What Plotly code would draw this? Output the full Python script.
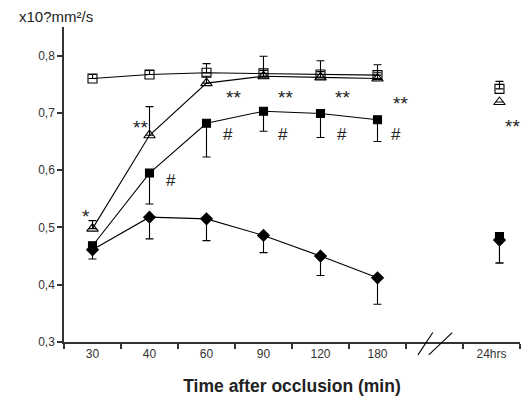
import plotly.graph_objects as go

# ---- data ----
categories = ["30", "40", "60", "90", "120", "180", "24hrs"]

open_sq = [0.760, 0.767, 0.770, 0.769, 0.767, 0.766, 0.742]
open_sq_up = [0.007, 0.007, 0.016, 0.030, 0.024, 0.018, 0.013]

tri = [0.498, 0.661, 0.752, 0.764, 0.762, 0.760, 0.719]
tri_up = [0.014, 0.050, 0.012, 0.010, 0.010, 0.010, 0.000]

fill_sq = [0.468, 0.595, 0.682, 0.703, 0.699, 0.688, 0.484]
fill_sq_dn = [0.010, 0.054, 0.059, 0.035, 0.042, 0.038, 0.046]

diam = [0.461, 0.518, 0.515, 0.486, 0.450, 0.412, 0.478]
diam_dn = [0.016, 0.038, 0.038, 0.030, 0.034, 0.046, 0.040]

# significance marks: (text, x-slot, y-value)
sig_marks = [
    ("*", -0.12, 0.526),
    ("**", 0.84, 0.682),
    ("**", 2.47, 0.734),
    ("**", 3.39, 0.734),
    ("**", 4.39, 0.734),
    ("**", 5.40, 0.724),
    ("**", 7.37, 0.683),
    ("#", 1.37, 0.582),
    ("#", 2.37, 0.662),
    ("#", 3.35, 0.662),
    ("#", 4.37, 0.662),
    ("#", 5.33, 0.662),
]

# slot positions: six time points, a gap slot for the axis break, then 24hrs
slot_x = [0, 1, 2, 3, 4, 5, 7.14]
tick_slots = [0, 1, 2, 3, 4, 5, 6, 7]
tick_text = ["30", "40", "60", "90", "120", "180", "", "24hrs"]


def with_gap(vals):
    # insert a None in the break slot so the 24hrs point is not connected
    return list(vals[:6]) + [None] + list(vals[6:])


xs = slot_x[:6] + [6] + slot_x[6:]

fig = go.Figure()
line_style = dict(color="black", width=1.1)


def add_series(vals, up, dn, symbol, size, lw=1.1):
    fig.add_trace(go.Scatter(
        x=xs, y=with_gap(vals), mode="lines+markers", connectgaps=False,
        line=line_style,
        marker=dict(symbol=symbol, size=size, color="black",
                    line=dict(color="black", width=lw)),
        error_y=dict(type="data", symmetric=False,
                     array=with_gap(up), arrayminus=with_gap(dn),
                     color="black", thickness=1.1, width=4),
        showlegend=False, cliponaxis=False,
    ))


zeros = [0] * 7
add_series(diam, zeros, diam_dn, "diamond", 9)
add_series(fill_sq, zeros, fill_sq_dn, "square", 8)
add_series(tri, tri_up, zeros, "triangle-up-open", 10)
add_series(open_sq, open_sq_up, zeros, "square-open", 9)

for txt, x, y in sig_marks:
    star = txt != "#"
    fig.add_annotation(x=x, y=y, text=txt, showarrow=False,
                       font=dict(size=19 if star else 17, color="#222",
                                 family="Liberation Sans, Arial"),
                       xanchor="center", yanchor="middle",
                       yshift=-4 if star else 0)

# axis break marks
for x0, x1 in [(5.71, 5.97), (5.90, 6.31)]:
    fig.add_shape(type="line", xref="x", yref="paper",
                  x0=x0, x1=x1, y0=-0.041, y1=0.030,
                  line=dict(color="black", width=1.1))

fig.add_annotation(xref="paper", yref="paper", x=-0.103, y=1.0,
                   text="x10?mm²/s", showarrow=False, xanchor="left",
                   yanchor="bottom",
                   font=dict(size=15, color="#222", family="Liberation Sans, Arial"))

fig.update_layout(
    width=515, height=392,
    margin=dict(l=56, r=3, t=19, b=58),
    paper_bgcolor="white", plot_bgcolor="white",
    separators=", ",
    font=dict(family="Liberation Sans, Arial", size=12, color="#333"),
    xaxis=dict(
        range=[-0.5, 7.5], tickmode="array", tickvals=tick_slots,
        ticktext=tick_text, ticks="", showgrid=False, zeroline=False,
        showline=True, linecolor="#333", linewidth=1.5,
        minor=dict(tickmode="linear", tick0=-0.5, dtick=1, ticks="outside",
                   ticklen=5, tickcolor="#333", tickwidth=1.5, showgrid=False),
        tickfont=dict(size=12, color="#333"),
        title=dict(text="<b>Time after occlusion (min)</b>",
                   font=dict(size=17.5, color="#222"), standoff=20),
    ),
    yaxis=dict(
        range=[0.3, 0.85], tickmode="array",
        tickvals=[0.3, 0.4, 0.5, 0.6, 0.7, 0.8], tickformat=".1f",
        ticks="outside", ticklen=5, tickcolor="#333", tickwidth=1.5,
        showgrid=False, zeroline=False, showline=True, linecolor="#333",
        linewidth=1.5, tickfont=dict(size=12, color="#333"),
    ),
)

fig.write_html("out.html")
